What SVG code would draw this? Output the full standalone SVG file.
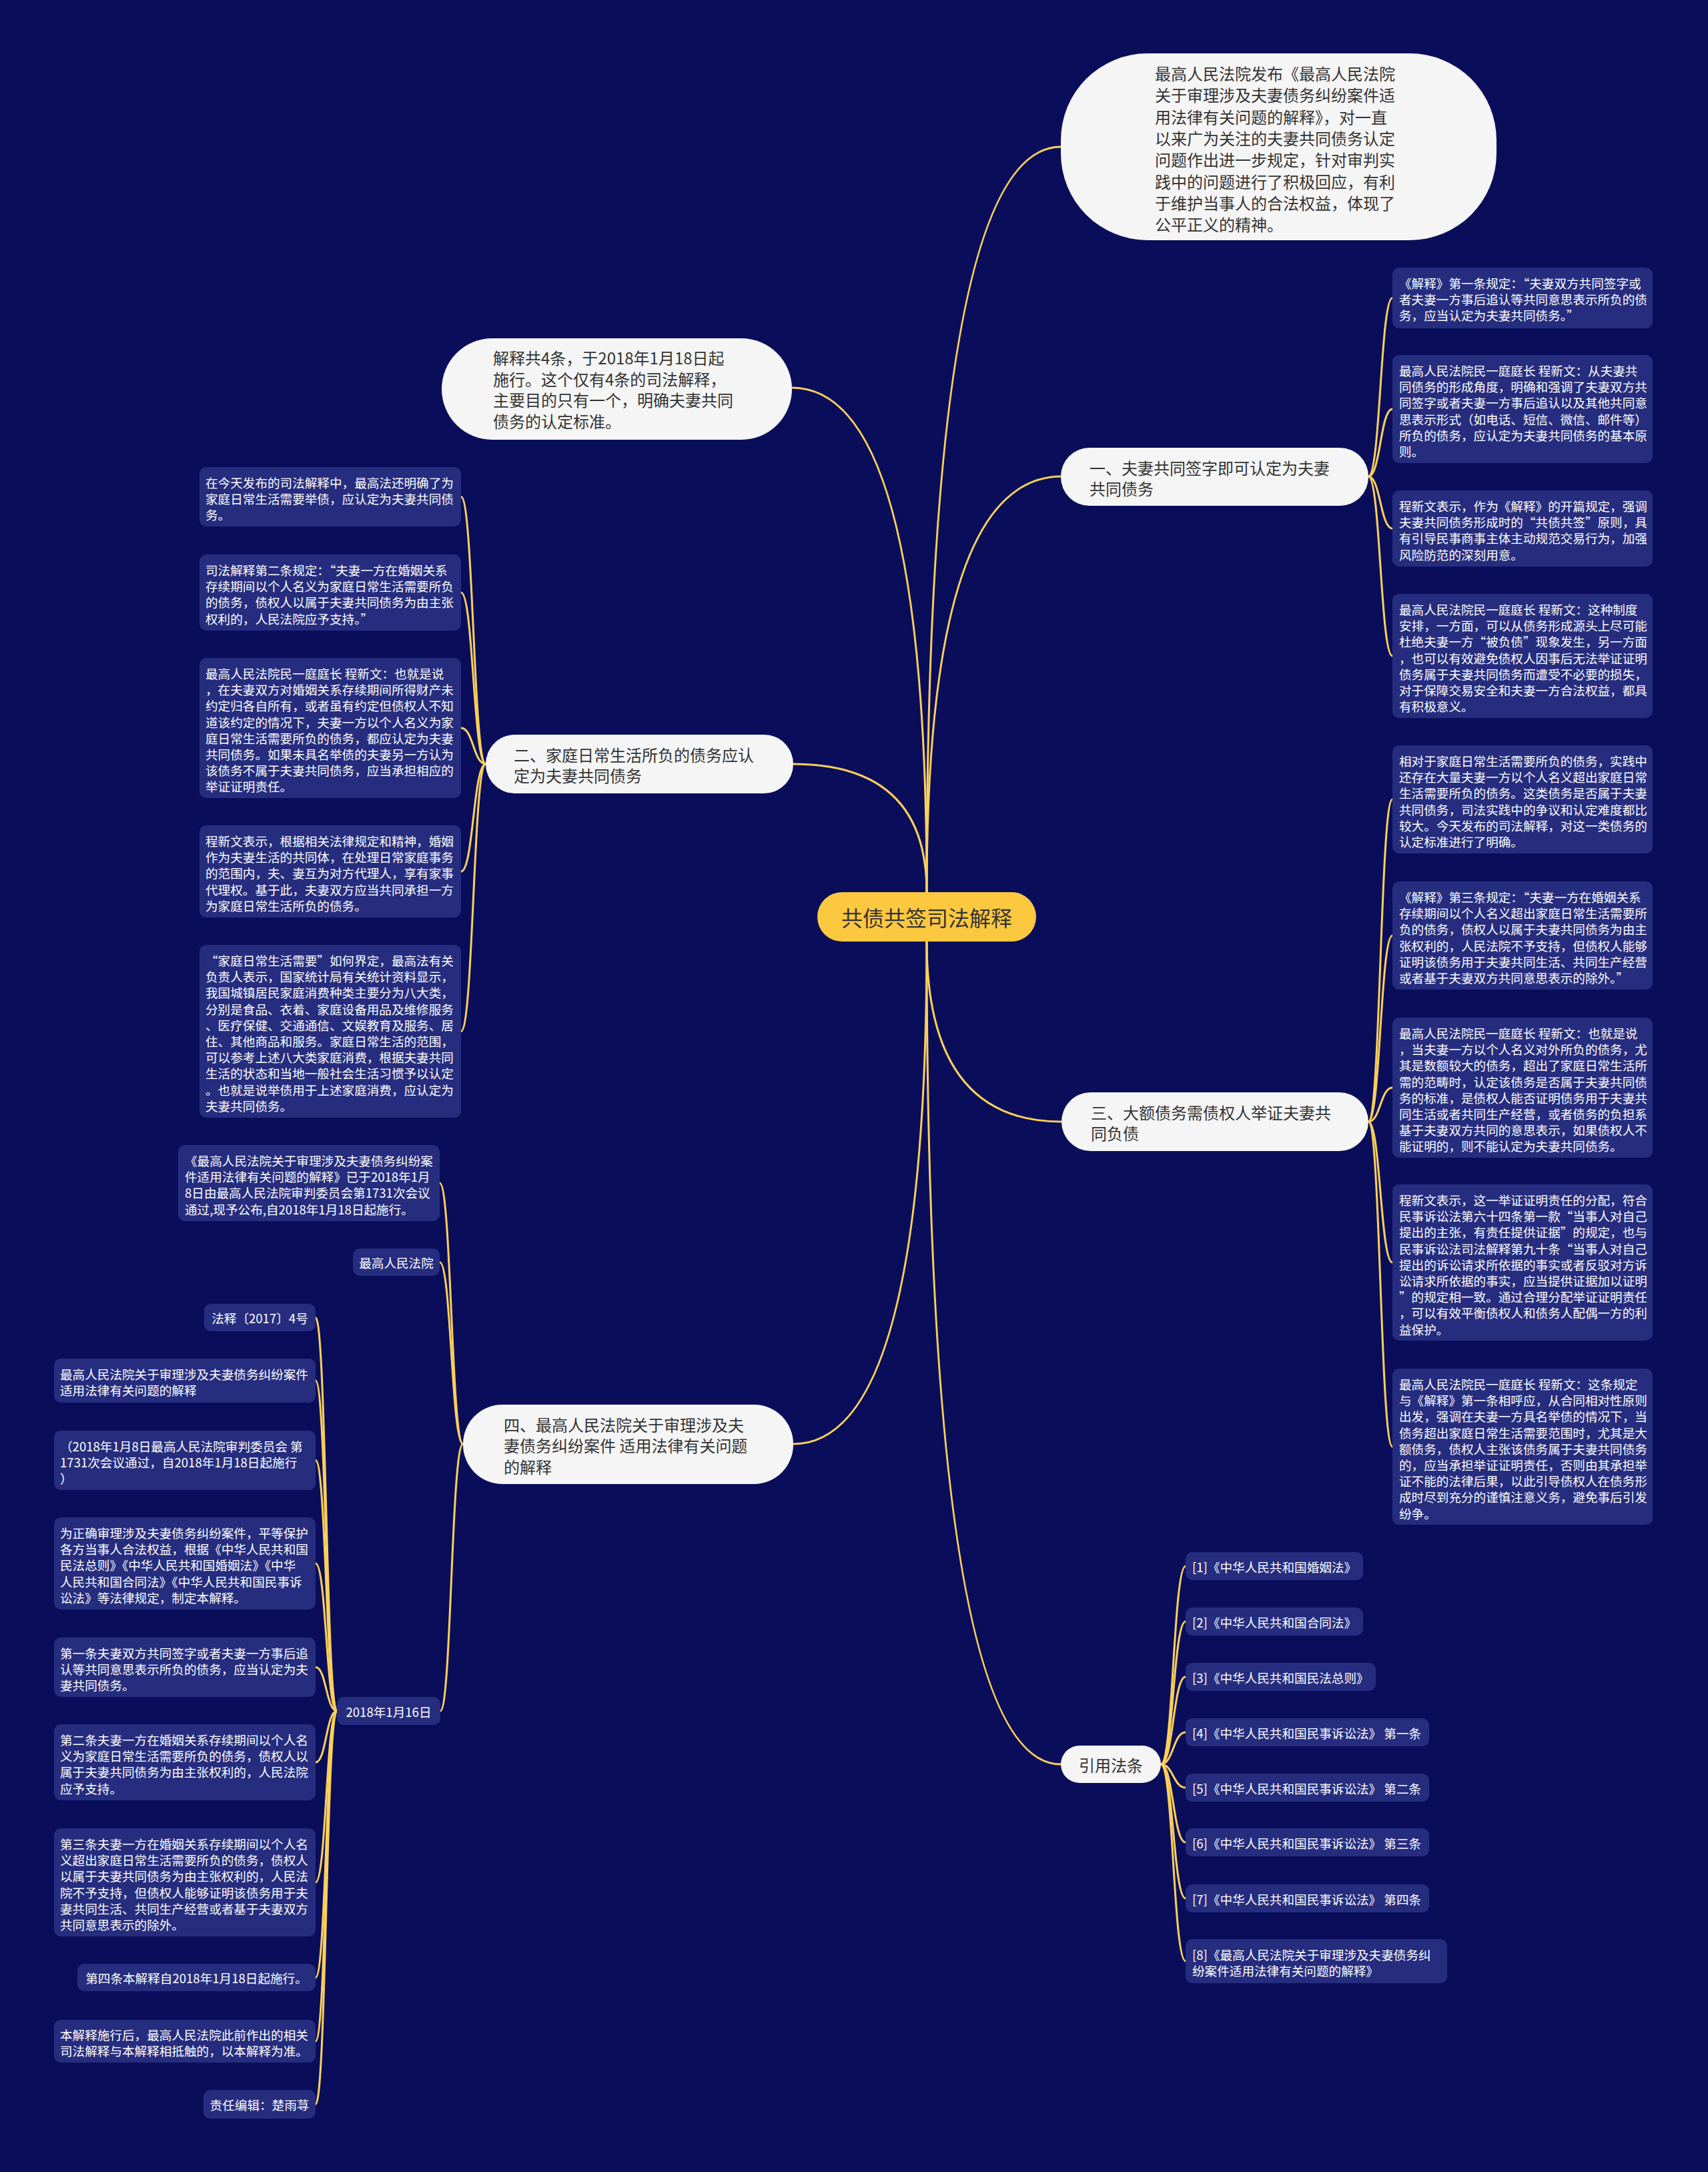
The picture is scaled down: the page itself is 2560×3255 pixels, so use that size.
<svg xmlns="http://www.w3.org/2000/svg" width="2560" height="3255" viewBox="0 0 2560 3255">
<style>
.bg{fill:#0a0e5a}
.c{fill:none;stroke:#fcd05a;stroke-width:3}
.root{fill:#fcc83f}
.rt{font-family:"Noto Sans CJK SC","Noto Sans",sans-serif;font-size:32px;fill:#333;text-anchor:middle;dominant-baseline:central}
.l1{fill:#f5f5f5}
.l1t{font-family:"Noto Sans CJK SC","Noto Sans",sans-serif;font-size:24px;fill:#333;dominant-baseline:central}
.lf{fill:#262d7e}
.lt{font-family:"Noto Sans CJK SC","Noto Sans",sans-serif;font-size:18.6px;fill:#fff;dominant-baseline:central}
.mid{text-anchor:middle}
</style>
<rect class="bg" x="0" y="0" width="2560" height="3255"/>
<g id="connectors">
<path class="c" d="M1389 1337 Q1389 220 1590 220"/>
<path class="c" d="M1389 1337 Q1389 581 1187 581"/>
<path class="c" d="M1389 1337 Q1389 714 1591 714"/>
<path class="c" d="M1389 1337 Q1389 1145 1189 1145"/>
<path class="c" d="M1389 1411 Q1389 1681 1591 1681"/>
<path class="c" d="M1389 1411 Q1389 2164 1189 2164"/>
<path class="c" d="M1389 1411 Q1389 2644 1590 2644"/>
<path class="c" d="M2051 714 C2069 714 2069 446.5 2087 446.5"/>
<path class="c" d="M2051 714 C2069 714 2069 613 2087 613"/>
<path class="c" d="M2051 714 C2069 714 2069 792 2087 792"/>
<path class="c" d="M2051 714 C2069 714 2069 983 2087 983"/>
<path class="c" d="M2051 1681 C2069 1681 2069 1198 2087 1198"/>
<path class="c" d="M2051 1681 C2069 1681 2069 1402 2087 1402"/>
<path class="c" d="M2051 1681 C2069 1681 2069 1630 2087 1630"/>
<path class="c" d="M2051 1681 C2069 1681 2069 1892 2087 1892"/>
<path class="c" d="M2051 1681 C2069 1681 2069 2168 2087 2168"/>
<path class="c" d="M728 1145 C709.5 1145 709.5 744.5 691 744.5"/>
<path class="c" d="M728 1145 C709.5 1145 709.5 888 691 888"/>
<path class="c" d="M728 1145 C709.5 1145 709.5 1091 691 1091"/>
<path class="c" d="M728 1145 C709.5 1145 709.5 1306 691 1306"/>
<path class="c" d="M728 1145 C709.5 1145 709.5 1545.5 691 1545.5"/>
<path class="c" d="M694 2164 C676.5 2164 676.5 1773 659 1773"/>
<path class="c" d="M694 2164 C676.5 2164 676.5 1891.5 659 1891.5"/>
<path class="c" d="M694 2164 C676.5 2164 676.5 2564 660 2564"/>
<path class="c" d="M505 2564 C489 2564 489 1974.5 473 1974.5"/>
<path class="c" d="M505 2564 C489 2564 489 2069 473 2069"/>
<path class="c" d="M505 2564 C489 2564 489 2188.5 473 2188.5"/>
<path class="c" d="M505 2564 C489 2564 489 2343 473 2343"/>
<path class="c" d="M505 2564 C489 2564 489 2498.5 473 2498.5"/>
<path class="c" d="M505 2564 C489 2564 489 2641 473 2641"/>
<path class="c" d="M505 2564 C489 2564 489 2821 473 2821"/>
<path class="c" d="M505 2564 C489 2564 489 2963.5 473 2963.5"/>
<path class="c" d="M505 2564 C489 2564 489 3059 473 3059"/>
<path class="c" d="M505 2564 C489 2564 489 3153.5 473 3153.5"/>
<path class="c" d="M1740 2644 C1758.5 2644 1758.5 2347 1777 2347"/>
<path class="c" d="M1740 2644 C1758.5 2644 1758.5 2430 1777 2430"/>
<path class="c" d="M1740 2644 C1758.5 2644 1758.5 2513 1777 2513"/>
<path class="c" d="M1740 2644 C1758.5 2644 1758.5 2596 1777 2596"/>
<path class="c" d="M1740 2644 C1758.5 2644 1758.5 2679 1777 2679"/>
<path class="c" d="M1740 2644 C1758.5 2644 1758.5 2761 1777 2761"/>
<path class="c" d="M1740 2644 C1758.5 2644 1758.5 2845 1777 2845"/>
<path class="c" d="M1740 2644 C1758.5 2644 1758.5 2939 1777 2939"/>
</g>
<g id="root">
<rect class="root" x="1225" y="1337" width="328" height="74" rx="37"/>
<text class="rt" x="1389" y="1374">共债共签司法解释</text>
</g>
<g id="intro">
<rect class="l1" x="1590" y="80" width="653" height="280" rx="130"/>
<text class="l1t"><tspan x="1731" y="109">最高人民法院发布《最高人民法院</tspan><tspan x="1731" y="141.3">关于审理涉及夫妻债务纠纷案件适</tspan><tspan x="1731" y="173.6">用法律有关问题的解释》，对一直</tspan><tspan x="1731" y="205.9">以来广为关注的夫妻共同债务认定</tspan><tspan x="1731" y="238.2">问题作出进一步规定，针对审判实</tspan><tspan x="1731" y="270.5">践中的问题进行了积极回应，有利</tspan><tspan x="1731" y="302.8">于维护当事人的合法权益，体现了</tspan><tspan x="1731" y="335.1">公平正义的精神。</tspan></text>
</g>
<g id="summary">
<rect class="l1" x="662" y="507" width="525" height="152" rx="76"/>
<text class="l1t"><tspan x="739" y="535">解释共4条，于2018年1月18日起</tspan><tspan x="739" y="566.7">施行。这个仅有4条的司法解释，</tspan><tspan x="739" y="598.4">主要目的只有一个，明确夫妻共同</tspan><tspan x="739" y="630">债务的认定标准。</tspan></text>
</g>
<g id="n1">
<rect class="l1" x="1590" y="671" width="461" height="87" rx="43"/>
<text class="l1t"><tspan x="1633" y="700">一、夫妻共同签字即可认定为夫妻</tspan><tspan x="1633" y="731">共同债务</tspan></text>
</g>
<g id="n2">
<rect class="l1" x="728" y="1101" width="461" height="88" rx="44"/>
<text class="l1t"><tspan x="770" y="1130">二、家庭日常生活所负的债务应认</tspan><tspan x="770" y="1161">定为夫妻共同债务</tspan></text>
</g>
<g id="n3">
<rect class="l1" x="1591" y="1637" width="460" height="88" rx="44"/>
<text class="l1t"><tspan x="1635" y="1666">三、大额债务需债权人举证夫妻共</tspan><tspan x="1635" y="1697">同负债</tspan></text>
</g>
<g id="n4">
<rect class="l1" x="694" y="2105" width="495" height="119" rx="59"/>
<text class="l1t"><tspan x="755" y="2134">四、最高人民法院关于审理涉及夫</tspan><tspan x="755" y="2165">妻债务纠纷案件 适用法律有关问题</tspan><tspan x="755" y="2197">的解释</tspan></text>
</g>
<g id="n5">
<rect class="l1" x="1590" y="2616" width="150" height="56" rx="28"/>
<text class="l1t mid" x="1665" y="2644">引用法条</text>
</g>
<g id="r1a">
<rect class="lf" x="2087" y="401" width="390" height="91" rx="10"/>
<text class="lt"><tspan x="2097" y="423">《解释》第一条规定：“夫妻双方共同签字或</tspan><tspan x="2097" y="447.2">者夫妻一方事后追认等共同意思表示所负的债</tspan><tspan x="2097" y="471.4">务，应当认定为夫妻共同债务。”</tspan></text>
</g>
<g id="r1b">
<rect class="lf" x="2087" y="532" width="390" height="162" rx="10"/>
<text class="lt"><tspan x="2097" y="554">最高人民法院民一庭庭长 程新文：从夫妻共</tspan><tspan x="2097" y="578.2">同债务的形成角度，明确和强调了夫妻双方共</tspan><tspan x="2097" y="602.4">同签字或者夫妻一方事后追认以及其他共同意</tspan><tspan x="2097" y="626.6">思表示形式（如电话、短信、微信、邮件等）</tspan><tspan x="2097" y="650.8">所负的债务，应认定为夫妻共同债务的基本原</tspan><tspan x="2097" y="675">则。</tspan></text>
</g>
<g id="r1c">
<rect class="lf" x="2087" y="735" width="390" height="114" rx="10"/>
<text class="lt"><tspan x="2097" y="757">程新文表示，作为《解释》的开篇规定，强调</tspan><tspan x="2097" y="781.2">夫妻共同债务形成时的“共债共签”原则，具</tspan><tspan x="2097" y="805.4">有引导民事商事主体主动规范交易行为，加强</tspan><tspan x="2097" y="829.6">风险防范的深刻用意。</tspan></text>
</g>
<g id="r1d">
<rect class="lf" x="2087" y="890" width="390" height="186" rx="10"/>
<text class="lt"><tspan x="2097" y="912">最高人民法院民一庭庭长 程新文：这种制度</tspan><tspan x="2097" y="936.2">安排，一方面，可以从债务形成源头上尽可能</tspan><tspan x="2097" y="960.4">杜绝夫妻一方“被负债”现象发生，另一方面</tspan><tspan x="2097" y="984.6">，也可以有效避免债权人因事后无法举证证明</tspan><tspan x="2097" y="1008.8">债务属于夫妻共同债务而遭受不必要的损失，</tspan><tspan x="2097" y="1033">对于保障交易安全和夫妻一方合法权益，都具</tspan><tspan x="2097" y="1057.2">有积极意义。</tspan></text>
</g>
<g id="r3a">
<rect class="lf" x="2087" y="1117" width="390" height="162" rx="10"/>
<text class="lt"><tspan x="2097" y="1139">相对于家庭日常生活需要所负的债务，实践中</tspan><tspan x="2097" y="1163.2">还存在大量夫妻一方以个人名义超出家庭日常</tspan><tspan x="2097" y="1187.4">生活需要所负的债务。这类债务是否属于夫妻</tspan><tspan x="2097" y="1211.6">共同债务，司法实践中的争议和认定难度都比</tspan><tspan x="2097" y="1235.8">较大。今天发布的司法解释，对这一类债务的</tspan><tspan x="2097" y="1260">认定标准进行了明确。</tspan></text>
</g>
<g id="r3b">
<rect class="lf" x="2087" y="1321" width="390" height="162" rx="10"/>
<text class="lt"><tspan x="2097" y="1343">《解释》第三条规定：“夫妻一方在婚姻关系</tspan><tspan x="2097" y="1367.2">存续期间以个人名义超出家庭日常生活需要所</tspan><tspan x="2097" y="1391.4">负的债务，债权人以属于夫妻共同债务为由主</tspan><tspan x="2097" y="1415.6">张权利的，人民法院不予支持，但债权人能够</tspan><tspan x="2097" y="1439.8">证明该债务用于夫妻共同生活、共同生产经营</tspan><tspan x="2097" y="1464">或者基于夫妻双方共同意思表示的除外。”</tspan></text>
</g>
<g id="r3c">
<rect class="lf" x="2087" y="1525" width="390" height="210" rx="10"/>
<text class="lt"><tspan x="2097" y="1547">最高人民法院民一庭庭长 程新文：也就是说</tspan><tspan x="2097" y="1571.2">，当夫妻一方以个人名义对外所负的债务，尤</tspan><tspan x="2097" y="1595.4">其是数额较大的债务，超出了家庭日常生活所</tspan><tspan x="2097" y="1619.6">需的范畴时，认定该债务是否属于夫妻共同债</tspan><tspan x="2097" y="1643.8">务的标准，是债权人能否证明债务用于夫妻共</tspan><tspan x="2097" y="1668">同生活或者共同生产经营，或者债务的负担系</tspan><tspan x="2097" y="1692.2">基于夫妻双方共同的意思表示，如果债权人不</tspan><tspan x="2097" y="1716.4">能证明的，则不能认定为夫妻共同债务。</tspan></text>
</g>
<g id="r3d">
<rect class="lf" x="2087" y="1775" width="390" height="234" rx="10"/>
<text class="lt"><tspan x="2097" y="1797">程新文表示，这一举证证明责任的分配，符合</tspan><tspan x="2097" y="1821.2">民事诉讼法第六十四条第一款“当事人对自己</tspan><tspan x="2097" y="1845.4">提出的主张，有责任提供证据”的规定，也与</tspan><tspan x="2097" y="1869.6">民事诉讼法司法解释第九十条“当事人对自己</tspan><tspan x="2097" y="1893.8">提出的诉讼请求所依据的事实或者反驳对方诉</tspan><tspan x="2097" y="1918">讼请求所依据的事实，应当提供证据加以证明</tspan><tspan x="2097" y="1942.2">”的规定相一致。通过合理分配举证证明责任</tspan><tspan x="2097" y="1966.4">，可以有效平衡债权人和债务人配偶一方的利</tspan><tspan x="2097" y="1990.6">益保护。</tspan></text>
</g>
<g id="r3e">
<rect class="lf" x="2087" y="2051" width="390" height="234" rx="10"/>
<text class="lt"><tspan x="2097" y="2073">最高人民法院民一庭庭长 程新文：这条规定</tspan><tspan x="2097" y="2097.2">与《解释》第一条相呼应，从合同相对性原则</tspan><tspan x="2097" y="2121.4">出发，强调在夫妻一方具名举债的情况下，当</tspan><tspan x="2097" y="2145.6">债务超出家庭日常生活需要范围时，尤其是大</tspan><tspan x="2097" y="2169.8">额债务，债权人主张该债务属于夫妻共同债务</tspan><tspan x="2097" y="2194">的，应当承担举证证明责任，否则由其承担举</tspan><tspan x="2097" y="2218.2">证不能的法律后果，以此引导债权人在债务形</tspan><tspan x="2097" y="2242.4">成时尽到充分的谨慎注意义务，避免事后引发</tspan><tspan x="2097" y="2266.6">纷争。</tspan></text>
</g>
<g id="l2a">
<rect class="lf" x="299" y="700" width="392" height="89" rx="10"/>
<text class="lt"><tspan x="308" y="722">在今天发布的司法解释中，最高法还明确了为</tspan><tspan x="308" y="746.2">家庭日常生活需要举债，应认定为夫妻共同债</tspan><tspan x="308" y="770.4">务。</tspan></text>
</g>
<g id="l2b">
<rect class="lf" x="299" y="831" width="392" height="114" rx="10"/>
<text class="lt"><tspan x="308" y="853">司法解释第二条规定：“夫妻一方在婚姻关系</tspan><tspan x="308" y="877.2">存续期间以个人名义为家庭日常生活需要所负</tspan><tspan x="308" y="901.4">的债务，债权人以属于夫妻共同债务为由主张</tspan><tspan x="308" y="925.6">权利的，人民法院应予支持。”</tspan></text>
</g>
<g id="l2c">
<rect class="lf" x="299" y="986" width="392" height="210" rx="10"/>
<text class="lt"><tspan x="308" y="1008">最高人民法院民一庭庭长 程新文：也就是说</tspan><tspan x="308" y="1032.2">，在夫妻双方对婚姻关系存续期间所得财产未</tspan><tspan x="308" y="1056.4">约定归各自所有，或者虽有约定但债权人不知</tspan><tspan x="308" y="1080.6">道该约定的情况下，夫妻一方以个人名义为家</tspan><tspan x="308" y="1104.8">庭日常生活需要所负的债务，都应认定为夫妻</tspan><tspan x="308" y="1129">共同债务。如果未具名举债的夫妻另一方认为</tspan><tspan x="308" y="1153.2">该债务不属于夫妻共同债务，应当承担相应的</tspan><tspan x="308" y="1177.4">举证证明责任。</tspan></text>
</g>
<g id="l2d">
<rect class="lf" x="299" y="1237" width="392" height="138" rx="10"/>
<text class="lt"><tspan x="308" y="1259">程新文表示，根据相关法律规定和精神，婚姻</tspan><tspan x="308" y="1283.2">作为夫妻生活的共同体，在处理日常家庭事务</tspan><tspan x="308" y="1307.4">的范围内，夫、妻互为对方代理人，享有家事</tspan><tspan x="308" y="1331.6">代理权。基于此，夫妻双方应当共同承担一方</tspan><tspan x="308" y="1355.8">为家庭日常生活所负的债务。</tspan></text>
</g>
<g id="l2e">
<rect class="lf" x="299" y="1416" width="392" height="259" rx="10"/>
<text class="lt"><tspan x="308" y="1438">“家庭日常生活需要”如何界定，最高法有关</tspan><tspan x="308" y="1462.2">负责人表示，国家统计局有关统计资料显示，</tspan><tspan x="308" y="1486.4">我国城镇居民家庭消费种类主要分为八大类，</tspan><tspan x="308" y="1510.6">分别是食品、衣着、家庭设备用品及维修服务</tspan><tspan x="308" y="1534.8">、医疗保健、交通通信、文娱教育及服务、居</tspan><tspan x="308" y="1559">住、其他商品和服务。家庭日常生活的范围，</tspan><tspan x="308" y="1583.2">可以参考上述八大类家庭消费，根据夫妻共同</tspan><tspan x="308" y="1607.4">生活的状态和当地一般社会生活习惯予以认定</tspan><tspan x="308" y="1631.6">。也就是说举债用于上述家庭消费，应认定为</tspan><tspan x="308" y="1655.8">夫妻共同债务。</tspan></text>
</g>
<g id="l4a">
<rect class="lf" x="267" y="1716" width="392" height="114" rx="10"/>
<text class="lt"><tspan x="277" y="1738">《最高人民法院关于审理涉及夫妻债务纠纷案</tspan><tspan x="277" y="1762.2">件适用法律有关问题的解释》已于2018年1月</tspan><tspan x="277" y="1786.4">8日由最高人民法院审判委员会第1731次会议</tspan><tspan x="277" y="1810.6">通过,现予公布,自2018年1月18日起施行。</tspan></text>
</g>
<g id="l4b">
<rect class="lf" x="529" y="1871" width="130" height="41" rx="10"/>
<text class="lt mid" x="594" y="1891.5">最高人民法院</text>
</g>
<g id="l4c">
<rect class="lf" x="505" y="2543" width="155" height="42" rx="10"/>
<text class="lt mid" x="582.5" y="2564">2018年1月16日</text>
</g>
<g id="c1">
<rect class="lf" x="306" y="1954" width="167" height="41" rx="10"/>
<text class="lt mid" x="389.5" y="1974.5">法释〔2017〕4号</text>
</g>
<g id="c2">
<rect class="lf" x="81" y="2036" width="392" height="66" rx="10"/>
<text class="lt"><tspan x="90" y="2058">最高人民法院关于审理涉及夫妻债务纠纷案件</tspan><tspan x="90" y="2082.2">适用法律有关问题的解释</tspan></text>
</g>
<g id="c3">
<rect class="lf" x="81" y="2144" width="392" height="89" rx="10"/>
<text class="lt"><tspan x="90" y="2166">（2018年1月8日最高人民法院审判委员会 第</tspan><tspan x="90" y="2190.2">1731次会议通过，自2018年1月18日起施行</tspan><tspan x="90" y="2214.4">）</tspan></text>
</g>
<g id="c4">
<rect class="lf" x="81" y="2274" width="392" height="138" rx="10"/>
<text class="lt"><tspan x="90" y="2296">为正确审理涉及夫妻债务纠纷案件，平等保护</tspan><tspan x="90" y="2320.2">各方当事人合法权益，根据《中华人民共和国</tspan><tspan x="90" y="2344.4">民法总则》《中华人民共和国婚姻法》《中华</tspan><tspan x="90" y="2368.6">人民共和国合同法》《中华人民共和国民事诉</tspan><tspan x="90" y="2392.8">讼法》等法律规定，制定本解释。</tspan></text>
</g>
<g id="c5">
<rect class="lf" x="81" y="2454" width="392" height="89" rx="10"/>
<text class="lt"><tspan x="90" y="2476">第一条夫妻双方共同签字或者夫妻一方事后追</tspan><tspan x="90" y="2500.2">认等共同意思表示所负的债务，应当认定为夫</tspan><tspan x="90" y="2524.4">妻共同债务。</tspan></text>
</g>
<g id="c6">
<rect class="lf" x="81" y="2584" width="392" height="114" rx="10"/>
<text class="lt"><tspan x="90" y="2606">第二条夫妻一方在婚姻关系存续期间以个人名</tspan><tspan x="90" y="2630.2">义为家庭日常生活需要所负的债务，债权人以</tspan><tspan x="90" y="2654.4">属于夫妻共同债务为由主张权利的，人民法院</tspan><tspan x="90" y="2678.6">应予支持。</tspan></text>
</g>
<g id="c7">
<rect class="lf" x="81" y="2740" width="392" height="162" rx="10"/>
<text class="lt"><tspan x="90" y="2762">第三条夫妻一方在婚姻关系存续期间以个人名</tspan><tspan x="90" y="2786.2">义超出家庭日常生活需要所负的债务，债权人</tspan><tspan x="90" y="2810.4">以属于夫妻共同债务为由主张权利的，人民法</tspan><tspan x="90" y="2834.6">院不予支持，但债权人能够证明该债务用于夫</tspan><tspan x="90" y="2858.8">妻共同生活、共同生产经营或者基于夫妻双方</tspan><tspan x="90" y="2883">共同意思表示的除外。</tspan></text>
</g>
<g id="c8">
<rect class="lf" x="116" y="2943" width="357" height="41" rx="10"/>
<text class="lt mid" x="294.5" y="2963.5">第四条本解释自2018年1月18日起施行。</text>
</g>
<g id="c9">
<rect class="lf" x="81" y="3027" width="392" height="64" rx="10"/>
<text class="lt"><tspan x="90" y="3048">本解释施行后，最高人民法院此前作出的相关</tspan><tspan x="90" y="3072.2">司法解释与本解释相抵触的，以本解释为准。</tspan></text>
</g>
<g id="c10">
<rect class="lf" x="305" y="3132" width="168" height="43" rx="10"/>
<text class="lt mid" x="389" y="3153.5">责任编辑：楚雨荨</text>
</g>
<g id="ref1">
<rect class="lf" x="1777" y="2326" width="266" height="42" rx="10"/>
<text class="lt" x="1787" y="2347">[1]《中华人民共和国婚姻法》</text>
</g>
<g id="ref2">
<rect class="lf" x="1777" y="2409" width="266" height="42" rx="10"/>
<text class="lt" x="1787" y="2430">[2]《中华人民共和国合同法》</text>
</g>
<g id="ref3">
<rect class="lf" x="1777" y="2492" width="285" height="42" rx="10"/>
<text class="lt" x="1787" y="2513">[3]《中华人民共和国民法总则》</text>
</g>
<g id="ref4">
<rect class="lf" x="1777" y="2575" width="365" height="42" rx="10"/>
<text class="lt" x="1787" y="2596">[4]《中华人民共和国民事诉讼法》 第一条</text>
</g>
<g id="ref5">
<rect class="lf" x="1777" y="2658" width="365" height="42" rx="10"/>
<text class="lt" x="1787" y="2679">[5]《中华人民共和国民事诉讼法》 第二条</text>
</g>
<g id="ref6">
<rect class="lf" x="1777" y="2740" width="365" height="42" rx="10"/>
<text class="lt" x="1787" y="2761">[6]《中华人民共和国民事诉讼法》 第三条</text>
</g>
<g id="ref7">
<rect class="lf" x="1777" y="2824" width="365" height="42" rx="10"/>
<text class="lt" x="1787" y="2845">[7]《中华人民共和国民事诉讼法》 第四条</text>
</g>
<g id="ref8">
<rect class="lf" x="1777" y="2906" width="392" height="66" rx="10"/>
<text class="lt"><tspan x="1787" y="2928">[8]《最高人民法院关于审理涉及夫妻债务纠</tspan><tspan x="1787" y="2952.2">纷案件适用法律有关问题的解释》</tspan></text>
</g>
</svg>
